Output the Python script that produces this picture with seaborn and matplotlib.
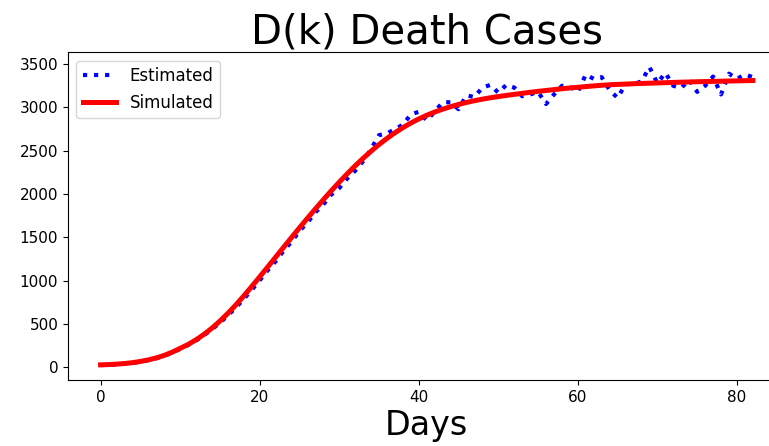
import matplotlib
matplotlib.use("Agg")
import matplotlib.pyplot as plt
import seaborn as sns
import pandas as pd

days = list(range(83))

estimated = [
    27, 30, 35, 42, 51, 65, 83, 105, 133, 170,
    213, 258, 310, 372, 440, 515, 600, 690, 790, 895,
    1005, 1120, 1225, 1345, 1450, 1575, 1670, 1790, 1880, 1995,
    2070, 2180, 2270, 2380, 2520, 2680, 2700, 2750, 2800, 2920,
    2950, 2850, 2950, 3060, 3060, 2980, 3140, 3120, 3230, 3260,
    3170, 3260, 3230, 3130, 3150, 3180, 3040, 3150, 3250, 3240,
    3180, 3380, 3330, 3350, 3200, 3110, 3270, 3270, 3300, 3466,
    3280, 3400, 3250, 3225, 3320, 3180, 3250, 3357, 3150, 3390,
    3330, 3380, 3350,
]

simulated = [
    30, 33, 38, 45, 55, 69, 87, 110, 139, 176,
    220, 265, 319, 382, 454, 535, 624, 721, 825, 934,
    1045, 1158, 1272, 1386, 1499, 1611, 1721, 1829, 1935, 2038,
    2138, 2234, 2326, 2413, 2495, 2572, 2643, 2708, 2767, 2820,
    2868, 2910, 2947, 2980, 3009, 3035, 3058, 3078, 3096, 3112,
    3126, 3139, 3151, 3163, 3175, 3186, 3196, 3206, 3216, 3225,
    3233, 3241, 3249, 3256, 3262, 3266, 3270, 3274, 3277, 3280,
    3283, 3286, 3289, 3292, 3294, 3297, 3299, 3301, 3303, 3305,
    3307, 3309, 3311,
]

df = pd.DataFrame({"Days": days, "Estimated": estimated, "Simulated": simulated})

fig = plt.figure(figsize=(7.69, 4.46), dpi=100)
ax = fig.add_axes([0.0884, 0.148, 0.933, 0.735])

sns.lineplot(data=df, x="Days", y="Estimated", ax=ax, color="blue",
             linestyle=":", linewidth=3, label="Estimated")
sns.lineplot(data=df, x="Days", y="Simulated", ax=ax, color="red",
             linewidth=3.6, label="Simulated")

ax.set_title("D(k) Death Cases", fontsize=29, pad=3)
ax.set_xlabel("Days", fontsize=24, labelpad=3)
ax.set_ylabel("")
ax.set_yticks(range(0, 3501, 500))
ax.set_xticks(range(0, 81, 20))
ax.tick_params(labelsize=11)
ax.legend(loc="upper left", fontsize=12)

fig.savefig("out.png", dpi=100)
